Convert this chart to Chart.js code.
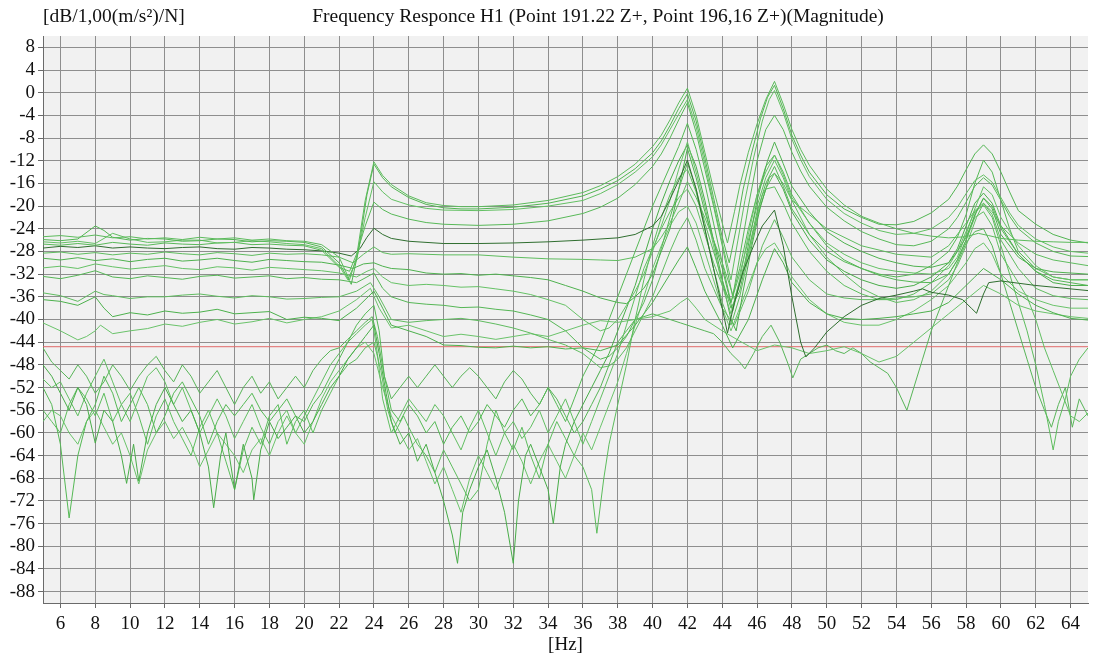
<!DOCTYPE html>
<html>
<head>
<meta charset="utf-8">
<script src="https://cdn.jsdelivr.net/npm/chart.js@4.4.1/dist/chart.umd.min.js"></script>
<style>
html, body { margin: 0; padding: 0; background: #fff; }
#wrap { width: 1101px; height: 662px; }
</style>
</head>
<body>
<div id="wrap"><canvas id="frf" width="1101" height="662"></canvas></div>
<script>
// axis ticks
var freqTicks = [6, 8, 10, 12, 14, 16, 18, 20, 22, 24, 26, 28, 30, 32, 34, 36, 38, 40, 42, 44, 46, 48, 50, 52, 54, 56, 58, 60, 62, 64];
var dbTicks = [-88, -84, -80, -76, -72, -68, -64, -60, -56, -52, -48, -44, -40, -36, -32, -28, -24, -20, -16, -12, -8, -4, 0, 4, 8];
var redLevel = -44.8;

// measured H1 curves, [Hz, dB]
var h1_01 = [[5,-25.4],[6,-25.2],[7,-25.5],[8,-25.1],[9,-25.6],[10,-25.4],[11,-25.8],[12,-25.6],[13,-25.9],[14,-25.5],[15,-25.8],[16,-25.6],[17,-26],[18,-25.8],[19,-26.1],[20,-26.2],[21,-26.8],[22,-29],[22.6,-33],[23,-29],[23.5,-19],[24,-12.2],[24.5,-14.6],[25,-16.2],[26,-18.2],[27,-19.4],[28,-19.9],[29,-20.1],[30,-20.1],[32,-19.8],[34,-19],[36,-17.6],[37,-16.4],[38,-14.8],[39,-12.6],[40,-9.5],[40.5,-7.5],[41,-4.8],[41.5,-1.8],[42,0.8],[42.5,-4],[43,-10.5],[43.5,-17],[44,-23],[44.3,-26.5],[44.7,-21],[45,-16.5],[45.5,-10.5],[46,-5.5],[46.5,-1.2],[47,2],[47.5,-2],[48,-6.5],[48.5,-10],[49,-12.8],[50,-17],[51,-19.8],[52,-21.8],[53,-23],[54,-24],[55,-24.8],[56,-25.3],[57,-25.6],[58,-25.4],[58.7,-24.8],[59.3,-25.2],[60,-25.7],[61,-26],[62,-26.2],[63,-26.3],[64,-26.4],[65,-26.4]];
var h1_02 = [[5,-25.9],[6,-26.1],[7,-25.8],[8,-23.5],[8.5,-24.3],[9,-25.5],[10,-26],[11,-25.7],[12,-25.8],[13,-26.2],[14,-26.1],[15,-25.8],[16,-25.9],[17,-26.3],[18,-26.1],[19,-26.2],[20,-26.4],[21,-27.2],[22,-30],[22.7,-33.8],[23.1,-28],[23.6,-18],[24,-12.6],[24.5,-15],[25,-16.6],[26,-18.5],[27,-19.7],[28,-20.3],[29,-20.5],[30,-20.5],[32,-20.2],[34,-19.5],[36,-18.2],[37,-17],[38,-15.5],[39,-13.4],[40,-10.6],[40.5,-8.5],[41,-5.8],[41.5,-2.8],[42,-0.2],[42.5,-5],[43,-11.5],[43.5,-18.5],[44,-25.5],[44.4,-30],[44.8,-24],[45.2,-17],[45.7,-10.5],[46.2,-4.5],[46.6,-0.8],[47,1.3],[47.5,-2.8],[48,-7.5],[48.5,-11],[49,-14],[50,-18],[51,-20.5],[52,-22],[53,-23.2],[54,-23.3],[55,-22.7],[56,-21.2],[57,-18.8],[57.5,-16.5],[58,-13.6],[58.5,-10.8],[59,-9.2],[59.5,-10.8],[60,-14],[60.5,-17.5],[61,-20.8],[62,-23.2],[63,-25],[64,-26],[65,-26.5]];
var h1_03 = [[5,-26.3],[6,-26.5],[7,-26.2],[8,-26.6],[9,-24.8],[10,-25.8],[11,-26.4],[12,-26.3],[13,-26],[14,-26],[15,-26.5],[16,-26.4],[17,-26.1],[18,-26.3],[19,-26.6],[20,-26.8],[21,-27.5],[22,-30.5],[22.5,-33],[23,-29.5],[23.5,-22],[24,-15.7],[24.5,-17.5],[25,-18.8],[26,-19.8],[27,-20.4],[28,-20.7],[30,-20.8],[32,-20.6],[34,-20],[36,-19],[37,-17.8],[38,-16.2],[39,-14],[40,-11.3],[40.5,-9.2],[41,-6.5],[41.5,-3.8],[42,-1.2],[42.5,-6],[43,-12.5],[43.5,-19.5],[44,-26.5],[44.5,-33],[44.9,-26],[45.3,-19],[45.8,-11.5],[46.3,-5],[46.7,-1.2],[47,0.4],[47.5,-3.5],[48,-8.2],[48.5,-11.8],[49,-14.8],[50,-18.8],[51,-21.3],[52,-23],[53,-24.3],[54,-25],[55,-24.8],[56,-24],[57,-22],[57.5,-20.2],[58,-17.8],[58.5,-15.5],[59,-14.5],[59.5,-15.8],[60,-18.5],[60.5,-21.2],[61,-23.4],[62,-25.8],[63,-27.2],[64,-28],[65,-28.3]];
var h1_04 = [[5,-26.7],[6,-26.9],[7,-26.6],[8,-26.9],[9,-26.4],[10,-26.7],[11,-26.9],[12,-26.5],[13,-26.7],[14,-26.8],[15,-26.5],[16,-26.4],[17,-26.8],[18,-26.7],[19,-26.9],[20,-27],[21,-27.8],[22,-30.8],[22.6,-31.5],[23,-28.5],[23.5,-23.5],[24,-19.3],[24.5,-20.6],[25,-21.4],[26,-22.3],[27,-22.9],[28,-23.2],[30,-23.4],[32,-23.2],[34,-22.6],[36,-21.3],[37,-20.2],[38,-18.6],[39,-16.2],[40,-13],[40.5,-10.8],[41,-8],[41.5,-4.8],[42,-1.8],[42.5,-7],[43,-13.5],[43.5,-20],[44,-27],[44.6,-36],[45,-29],[45.5,-20],[46,-12],[46.5,-6.5],[47,-4],[47.5,-6.5],[48,-10.5],[48.5,-13.8],[49,-16.5],[50,-20.2],[51,-22.6],[52,-24.5],[53,-25.8],[54,-26.8],[55,-27],[56,-26.2],[57,-24],[57.5,-22],[58,-19.3],[58.5,-16.5],[59,-15],[59.5,-16.3],[60,-19],[60.5,-21.8],[61,-24],[62,-26.5],[63,-28],[64,-28.8],[65,-28.9]];
var h1_05 = [[5,-27.4],[6,-27.1],[7,-27.3],[8,-27],[9,-27.4],[10,-27.2],[11,-27.4],[12,-27.5],[13,-27.3],[14,-27.2],[15,-27.5],[16,-27.6],[17,-27.3],[18,-27.4],[19,-27.6],[20,-27.7],[21,-27.9],[22,-28.3],[22.7,-28.8],[23.2,-27.5],[23.6,-25.5],[24,-23.9],[24.5,-25],[25,-25.7],[26,-26.2],[28,-26.6],[30,-26.6],[32,-26.5],[34,-26.3],[36,-26],[38,-25.6],[39,-25],[40,-23.5],[40.5,-21.8],[41,-18.8],[41.5,-15.5],[42,-11.9],[42.5,-17],[43,-24],[43.5,-31],[44,-38],[44.3,-42.4],[44.7,-37],[45.2,-31.5],[45.8,-27],[46.3,-23.5],[47,-20.7],[47.5,-27],[48,-36],[48.5,-44],[48.8,-46.6],[49.3,-45],[50,-42.2],[51,-39.5],[52,-37.5],[53,-36.3],[54,-35.7],[55,-35],[55.5,-34.6],[56,-35.2],[57,-35.7],[57.8,-36.5],[58.3,-38],[58.6,-38.9],[59,-35.5],[59.3,-33.5],[60,-33.2],[61,-33.6],[62,-34],[63,-34.3],[64,-34.6],[65,-34.9]];
var h1_06 = [[5,-28.3],[6,-28.1],[7,-28.5],[8,-28.2],[9,-28.6],[10,-28.3],[11,-28.5],[12,-28.1],[13,-28.4],[14,-28.6],[15,-28.2],[16,-28.4],[17,-28.7],[18,-28.3],[19,-28.5],[20,-28.4],[21,-28.6],[22,-29],[22.8,-30],[23.4,-28.5],[24,-27.2],[24.5,-28.2],[25,-28.5],[26,-28.4],[28,-28.6],[30,-28.6],[32,-29],[34,-29.3],[36,-29.4],[37,-29.5],[38,-29.6],[39,-29],[40,-27.5],[40.5,-25.5],[41,-23],[41.5,-19.5],[42,-15.7],[42.5,-18.5],[43,-22],[44,-30],[44.7,-36.5],[45.5,-28],[46.3,-18],[47,-14.2],[47.5,-16],[48,-19],[49,-21.5],[50,-24],[52,-27],[54,-28.5],[56,-29],[57,-27],[58,-23],[58.5,-20.8],[59,-19.5],[59.5,-21],[60,-23.5],[61,-26.5],[62,-28.5],[63,-29.5],[64,-30],[65,-30.5]];
var h1_07 = [[5,-29.2],[6,-29.5],[7,-29.1],[8,-29.6],[9,-29.3],[10,-29.8],[11,-29.4],[12,-29.2],[13,-29.7],[14,-29.5],[15,-29.2],[16,-29.6],[17,-29.9],[18,-29.4],[19,-29.6],[20,-29.8],[21,-29.9],[22,-30.4],[22.8,-31],[23.4,-30.2],[24,-30],[24.5,-30.6],[25,-31],[26,-31.2],[27,-31.8],[28,-32],[29,-31.9],[30,-32.2],[31,-32],[32,-32.3],[33,-32.6],[34,-33],[35,-34],[36,-35],[37,-36.2],[38,-37],[38.5,-37.2],[39,-36],[39.5,-34.5],[40,-32],[40.5,-28],[41,-24],[41.5,-17],[42,-9.8],[42.5,-15],[43,-21],[44,-31],[44.6,-38.5],[45.3,-30],[46,-19],[46.6,-12],[47,-8.7],[47.5,-12.5],[48,-16.5],[49,-21],[50,-24.5],[51,-26.5],[52,-28],[53,-29.2],[54,-30],[55,-30.6],[56,-30.8],[57,-30],[57.5,-28],[58,-25.5],[58.6,-21],[59,-18.6],[59.5,-20.5],[60,-25],[61,-29],[62,-31],[63,-31.6],[64,-31.8],[65,-32]];
var h1_08 = [[5,-30.9],[6,-30.6],[7,-31],[8,-30.2],[9,-30.7],[10,-31.1],[11,-30.8],[12,-30.5],[13,-31],[14,-31.2],[15,-30.7],[16,-30.9],[17,-31.3],[18,-30.8],[19,-31],[20,-31.2],[21,-31.4],[22,-31.8],[23,-32.5],[23.6,-31.5],[24,-31],[24.5,-32.5],[25,-33.5],[26,-34],[27,-33.8],[28,-34],[29,-34.3],[30,-34.2],[31,-34.6],[32,-35],[33,-35.6],[34,-36.5],[35,-37.5],[36,-40],[37,-42],[37.5,-41.5],[38,-40],[38.5,-37.5],[39,-35],[39.5,-32],[40,-28],[40.5,-23.5],[41,-19],[41.5,-13.5],[42,-8.7],[42.5,-14],[43,-20],[43.5,-27],[44,-34],[44.5,-39],[45,-33],[45.5,-25],[46,-18],[46.5,-14],[47,-11],[47.5,-14.5],[48,-18.5],[49,-23],[50,-26.5],[51,-28.5],[52,-30],[53,-31],[54,-31.5],[55,-31.8],[56,-32],[57,-31],[57.5,-29],[58,-25],[58.5,-20.5],[59,-16.6],[59.5,-18],[60,-22],[60.5,-24.5],[61,-27],[62,-30.5],[63,-32.5],[64,-33],[65,-33]];
var h1_09 = [[5,-32.4],[6,-32.8],[7,-32.2],[8,-31.4],[9,-32.5],[10,-32.8],[11,-32.3],[12,-32.6],[13,-32.9],[14,-32.4],[15,-32.2],[16,-32.7],[17,-32.5],[18,-32.3],[19,-32.8],[20,-32.6],[21,-32.9],[22,-33],[23,-33.5],[23.6,-32.5],[24,-31.8],[24.5,-34.5],[25,-36],[26,-37],[27,-37.3],[28,-37.5],[29,-37.9],[30,-37.8],[31,-38.2],[32,-38.5],[33,-39.2],[34,-40],[35,-42],[36,-45],[37,-47],[37.5,-46.5],[38,-45],[38.5,-43],[39,-40],[39.5,-37],[40,-33],[40.5,-27.5],[41,-22],[41.5,-17],[42,-12.4],[42.5,-17],[43,-23],[43.5,-28],[44,-33],[44.5,-38],[45,-35],[45.5,-28],[46,-21],[46.5,-16],[47,-13],[47.5,-16.5],[48,-20.5],[49,-25],[50,-28],[51,-29.8],[52,-31],[53,-32.2],[54,-33],[55,-33.4],[56,-33.5],[57,-32],[57.5,-29.5],[58,-26],[58.5,-21.5],[59,-18.6],[59.5,-20],[60,-24],[61,-28.5],[62,-31.5],[63,-33],[64,-33.5],[65,-34]];
var h1_10 = [[5,-35.3],[6,-35.8],[7,-36.8],[8,-35],[8.5,-35.6],[9,-35.8],[10,-36.3],[11,-36],[12,-36],[13,-35.7],[14,-35.5],[15,-35.9],[16,-36.2],[17,-35.8],[18,-36],[19,-36.4],[20,-36.3],[21,-36.1],[22,-36],[23,-35],[23.8,-33.5],[24.3,-36],[25,-40],[26,-40.5],[27,-40.2],[28,-40],[29,-39.8],[30,-40.2],[31,-40.8],[32,-41.5],[33,-42.4],[34,-43.5],[35,-44.5],[36,-46],[37,-48.5],[37.5,-48.2],[38,-47],[38.5,-45],[39,-42],[39.5,-39],[40,-36],[40.5,-32],[41,-28],[41.5,-24.5],[42,-22],[42.5,-26],[43,-31],[43.5,-34.5],[44,-38],[44.7,-41],[45.5,-35],[46.3,-27],[47,-22.4],[47.5,-25.5],[48,-29],[49,-33],[50,-35.5],[51,-36.2],[52,-36.5],[53,-36.5],[54,-36.2],[55,-36],[56,-35.5],[57,-33],[57.5,-30.5],[58,-27],[58.6,-22],[59,-19.5],[59.5,-21.5],[60,-26],[61,-31],[62,-34.5],[63,-35.8],[64,-36.3],[65,-36.5]];
var h1_11 = [[5,-36.5],[6,-36.8],[7,-37.5],[8,-36],[8.5,-38],[9,-39.5],[10,-38.8],[11,-39.2],[12,-38.5],[13,-38.9],[14,-38.7],[15,-38.2],[16,-39],[17,-38.8],[18,-38.6],[19,-40],[20,-39.6],[21,-39.8],[22,-40.2],[23,-38],[24,-35],[24.5,-38],[25,-41],[26,-42],[27,-43],[28,-44.5],[29,-44.6],[30,-44.9],[31,-45],[32,-44.7],[33,-45],[34,-44.8],[35,-45.2],[36,-45],[37,-45.5],[38,-44.5],[39,-41],[40,-37],[41,-32],[41.5,-29.5],[42,-27.2],[42.5,-31],[43,-35],[44,-41],[44.6,-45],[45.5,-40],[46.3,-33],[47,-27.5],[47.5,-30],[48,-33.5],[49,-37],[50,-39],[51,-39.8],[52,-40],[53,-39.8],[54,-39.5],[55,-39],[56,-38.5],[57,-37],[58,-34],[58.5,-32.5],[59,-31],[59.5,-32],[60,-33],[61,-35.5],[62,-37.5],[63,-38.8],[64,-39.8],[65,-40.1]];
var h1_12 = [[5,-40.6],[6,-42],[7,-43.6],[7.5,-43],[8,-42],[8.3,-41],[9,-42.5],[10,-42],[11,-41.6],[12,-40.8],[13,-41.2],[14,-40.5],[15,-40],[16,-40.8],[17,-40.4],[18,-39.8],[19,-40.6],[20,-40],[21,-39.5],[22,-38.5],[23,-36.5],[23.8,-34.5],[24.3,-38],[25,-41.5],[26,-41],[27,-42],[28,-43],[29,-42.6],[30,-43],[31,-43.5],[32,-43],[33,-42.5],[34,-43],[35,-42],[36,-41],[37,-40.2],[38,-40.5],[39,-40],[40,-39.5],[41,-38.5],[41.6,-37],[42,-36.2],[42.5,-38],[43,-40],[44,-42],[45,-43.8],[46,-45.5],[47,-44.5],[48,-45],[49,-46],[50,-45.5],[51,-44.8],[52,-46],[53,-47.5],[54,-46.5],[55,-44],[56,-41.5],[57,-39],[58,-36.5],[59,-34],[60,-35.5],[61,-37.5],[62,-38.5],[63,-39],[64,-39.5],[65,-39.8]];
var h1_13 = [[5,-52],[5.5,-55],[6,-62],[6.5,-75],[7,-64],[7.5,-58],[8,-55],[8.5,-50],[9,-53],[9.5,-58],[10,-55],[10.5,-52],[11,-55],[11.5,-60],[12,-57],[12.5,-53],[13,-51],[13.5,-54],[14,-57],[14.5,-62],[15,-58],[15.5,-55],[16,-57],[16.5,-55],[17,-53],[17.5,-56],[18,-58],[18.5,-56],[19,-54],[19.5,-57],[20,-58],[20.5,-55],[21,-53],[21.5,-50],[22,-47],[22.5,-44],[23,-41],[23.5,-39],[24,-37.5],[24.3,-42],[24.6,-50],[25,-56],[25.5,-58],[26,-55],[26.5,-57],[27,-60],[27.5,-58],[28,-62],[28.5,-59],[29,-57],[29.5,-60],[30,-58],[30.5,-55],[31,-57],[31.5,-59],[32,-56],[32.5,-54],[33,-57],[33.5,-55],[34,-52],[34.5,-55],[35,-58],[35.5,-54],[36,-50],[36.5,-47],[37,-44],[37.5,-40],[38,-36],[38.5,-32],[39,-28],[39.5,-24],[40,-20],[40.5,-16.5],[41,-13],[41.5,-9.5],[42,-5.4],[42.5,-10],[43,-16],[43.5,-23],[44,-30],[44.5,-37],[45,-31],[45.5,-24],[46,-18],[46.5,-13],[47,-11],[47.5,-14],[48,-18],[49,-23],[50,-27],[51,-29.5],[52,-31],[53,-32],[54,-32.5],[55,-32],[56,-30.5],[57,-28],[57.5,-25.5],[58,-21.5],[58.5,-16],[59,-11.9],[59.5,-14],[60,-19],[60.5,-24],[61,-28],[62,-31],[63,-32.5],[64,-33],[65,-33]];
var h1_14 = [[5,-48],[5.5,-50],[6,-53],[6.5,-56],[7,-52],[7.5,-55],[8,-61.8],[8.5,-56],[9,-58],[9.5,-64],[9.8,-68.9],[10.2,-62],[10.5,-68.5],[11,-60],[11.5,-55],[12,-52],[12.5,-55],[13,-58],[13.5,-56],[14,-60],[14.5,-66],[14.8,-73.2],[15.2,-64],[15.5,-60],[16,-70],[16.5,-62],[17,-68],[17.1,-71.8],[17.5,-63],[18,-58],[18.5,-61],[19,-59],[19.5,-57],[20,-60],[20.5,-58],[21,-55],[21.5,-52],[22,-50],[22.5,-47],[23,-45],[23.5,-43],[24,-41],[24.3,-46],[24.7,-53],[25,-58],[25.5,-62],[26,-60],[26.5,-65],[27,-62],[27.5,-67],[28,-72],[28.5,-78],[28.8,-83],[29.1,-74],[29.5,-70],[30,-66],[30.5,-63],[31,-68],[31.5,-74],[32,-83],[32.3,-72],[32.7,-64],[33,-62],[33.5,-66],[34,-70],[34.3,-76],[34.7,-66],[35,-62],[35.5,-58],[36,-55],[36.5,-52],[37,-49],[37.5,-46],[38,-42],[38.5,-38],[39,-34],[39.5,-29],[40,-24],[40.5,-19.5],[41,-15.5],[41.5,-12],[42,-9.2],[42.5,-13],[43,-19],[43.5,-26],[44,-33],[44.5,-40],[44.8,-42],[45.2,-35],[45.7,-27],[46.2,-20],[46.7,-15],[47,-14.2],[47.5,-17],[48,-21],[49,-26],[50,-29.5],[51,-31.5],[52,-33],[53,-34],[54,-34.5],[55,-34],[56,-32.5],[57,-30],[57.5,-27.5],[58,-23.5],[58.5,-19.5],[59,-17.7],[59.5,-19.5],[60,-23.5],[61,-28.5],[62,-31.5],[63,-33.5],[64,-34],[65,-34]];
var h1_15 = [[5,-56],[5.5,-58],[6,-60],[6.5,-55],[7,-52],[7.5,-54],[8,-57],[8.5,-53],[9,-58],[9.5,-55],[10,-53],[10.5,-57],[11,-62],[11.5,-57],[12,-54],[12.5,-58],[13,-61],[13.5,-64],[14,-59],[14.5,-56],[15,-60],[15.5,-65],[16,-70],[16.5,-63],[17,-59],[17.5,-62],[18,-57],[18.5,-55],[19,-62],[19.5,-58],[20,-56],[20.5,-60],[21,-56],[21.5,-53],[22,-50],[22.5,-48],[23,-47],[23.5,-45],[24,-44],[24.4,-49],[24.8,-56],[25.2,-60],[25.7,-57],[26,-59],[26.5,-62],[27,-64],[27.5,-67],[28,-63],[28.5,-66],[29,-69],[29.5,-72],[30,-70],[30.5,-62],[31,-56],[31.5,-60],[32,-63],[32.5,-59],[33,-64],[33.5,-68],[34,-62],[34.5,-58],[35,-61],[35.5,-64],[36,-66],[36.5,-70],[36.8,-77.7],[37.2,-68],[37.5,-62],[38,-55],[38.5,-48],[39,-40],[39.5,-33],[40,-27],[40.5,-22],[41,-18],[41.5,-15],[42,-13.5],[42.5,-17.5],[43,-24],[43.5,-31],[44,-37],[44.5,-41],[45,-36],[45.5,-29],[46,-22],[46.5,-17],[47,-16.6],[47.5,-19.5],[48,-23],[49,-28],[50,-31.5],[51,-34],[52,-35.5],[53,-36.5],[54,-36.5],[55,-35.5],[56,-33.5],[57,-30.5],[57.5,-28],[58,-24.5],[58.5,-21],[59,-19.8],[59.5,-22],[60,-27],[60.5,-32],[61,-37],[61.5,-42],[62,-48],[62.5,-55],[63,-63],[63.3,-58],[63.7,-54],[64,-50],[64.5,-47],[65,-45]];
var h1_16 = [[5,-50.5],[5.5,-52],[6,-51],[6.5,-54],[7,-57],[7.5,-53],[8,-50],[8.5,-47],[9,-51],[9.5,-55],[10,-58],[10.5,-54],[11,-50],[11.5,-48.5],[12,-51],[12.5,-55],[13,-52],[13.5,-56],[14,-60],[14.5,-57],[15,-54],[15.5,-57],[16,-61],[16.5,-58],[17,-55],[17.5,-59],[18,-62],[18.5,-58],[19,-56],[19.5,-60],[20,-57],[20.5,-54],[21,-51],[21.5,-48],[22,-46],[22.5,-44],[23,-42.5],[23.5,-41],[23.9,-40],[24.2,-46],[24.5,-54],[25,-60],[25.5,-57],[26,-54],[26.5,-56],[27,-58],[27.5,-55],[28,-57],[28.5,-60],[29,-63],[29.5,-59],[30,-56],[30.5,-60],[31,-64],[31.5,-60],[32,-58],[32.5,-61],[33,-59],[33.5,-56],[34,-60],[34.5,-57],[35,-54],[35.5,-58],[36,-62],[36.5,-58],[37,-54],[37.5,-50],[38,-46],[38.5,-41],[39,-36],[39.5,-31],[40,-27.5],[40.5,-24],[41,-21],[41.5,-18.5],[42,-17],[42.5,-20],[43,-25],[43.5,-30],[44,-34],[44.5,-37],[45,-32],[45.5,-26],[46,-20],[46.5,-15],[47,-11.9],[47.5,-15],[48,-19],[49,-25],[50,-29],[51,-32],[52,-34.5],[53,-36],[54,-37],[55,-36.5],[56,-35],[57,-32],[57.5,-29.5],[58,-26],[58.5,-22],[59,-21],[59.5,-23.5],[60,-28.5],[61,-33.5],[61.5,-36],[62,-40],[62.5,-45],[63,-49],[63.5,-53],[64,-57],[64.5,-58],[65,-56.5]];
var h1_17 = [[5,-45],[5.5,-47.5],[6,-49],[6.5,-50.5],[7,-48],[7.5,-50],[8,-53],[8.5,-51],[9,-48],[9.5,-50],[10,-52.5],[10.5,-50],[11,-48],[11.5,-46.5],[12,-49],[12.5,-51],[13,-48],[13.5,-50],[14,-53],[14.5,-51],[15,-49],[15.5,-52],[16,-55],[16.5,-52],[17,-50],[17.5,-53],[18,-51],[18.5,-54],[19,-52],[19.5,-50],[20,-52],[20.5,-49],[21,-47],[21.5,-45.5],[22,-45],[22.5,-43.5],[23,-42],[23.5,-40.5],[23.9,-39.5],[24.2,-43],[24.6,-50],[25,-54],[25.5,-52],[26,-50],[26.5,-52],[27,-50],[27.5,-48],[28,-50],[28.5,-52],[29,-50],[29.5,-48.5],[30,-50],[30.5,-52],[31,-54],[31.5,-51],[32,-49],[32.5,-50.5],[33,-53],[33.5,-55],[34,-52],[34.5,-54],[35,-57],[35.5,-60],[36,-58],[36.5,-55],[37,-52],[37.5,-48],[38,-44],[38.5,-42],[39,-40],[40,-39],[41,-40],[41.6,-40.6],[42.5,-41.5],[43,-42],[43.5,-42.5],[44,-44],[44.5,-46],[45,-47.5],[45.3,-48.7],[45.8,-46],[46.3,-43],[46.8,-41],[47.3,-44],[47.8,-48],[48.05,-50.3],[48.5,-47],[49,-46],[49.5,-45],[50,-44.5],[50.5,-45.5],[51,-46],[51.5,-45],[52,-46],[52.5,-47.5],[53,-48.5],[53.5,-49.5],[54,-52],[54.6,-56],[55,-52],[55.5,-47],[56,-42],[56.5,-38],[57,-34],[57.5,-30],[58,-26.5],[58.5,-24.5],[59,-24],[59.5,-27],[60,-32],[60.5,-37],[61,-42],[61.5,-47],[62,-52],[62.5,-56],[62.9,-59],[63.3,-55],[63.7,-52],[64.1,-59],[64.5,-54],[65,-57]];
var h1_18 = [[5,-58],[5.5,-56],[6,-57],[6.5,-60],[7,-62],[7.5,-58],[8,-56],[8.5,-59],[9,-62],[9.5,-60],[10,-64],[10.5,-69],[11,-63],[11.5,-60],[12,-58],[12.5,-61],[13,-59],[13.5,-62],[14,-66],[14.5,-63],[15,-60],[15.5,-62],[16,-64],[16.5,-67],[17,-63],[17.5,-61],[18,-64],[18.5,-60],[19,-57],[19.5,-60],[20,-62],[20.5,-58],[21,-54],[21.5,-51],[22,-49],[22.5,-47],[23,-45],[23.5,-44],[24,-46],[24.5,-52],[25,-57],[25.5,-60],[26,-63],[26.5,-61],[27,-65],[27.5,-69],[28,-66],[28.5,-70],[29,-74],[29.5,-68],[30,-64],[30.5,-67],[31,-70],[31.5,-66],[32,-62],[32.5,-65],[33,-69],[33.5,-65],[34,-62],[34.5,-65],[35,-68],[35.5,-64],[36,-60],[36.5,-63],[37,-59],[37.5,-55],[38,-51],[38.5,-46],[39,-41],[39.5,-36],[40,-31],[40.5,-27],[41,-23.5],[41.5,-21],[42,-20],[42.5,-23],[43,-28],[43.5,-33],[44,-38],[44.5,-42],[45,-38],[45.5,-34],[46,-30],[46.5,-27.5],[47,-26.5],[47.5,-29],[48,-32.5],[49,-36.5],[50,-39],[51,-40.5],[52,-41],[53,-41],[54,-40],[55,-38.5],[56,-36.5],[57,-34],[58,-30],[58.5,-27.5],[59,-26.5],[59.5,-28.5],[60,-32],[61,-35],[62,-36.5],[63,-37.5],[64,-38],[65,-38]];

var curves = [h1_01, h1_02, h1_03, h1_04, h1_05, h1_06, h1_07, h1_08, h1_09,
              h1_10, h1_11, h1_12, h1_13, h1_14, h1_15, h1_16, h1_17, h1_18];
var lineColors = ['#5cbb5c', '#52b552', '#63c063', '#58b958', '#2f6e2f', '#5fbd5f',
                  '#4fb24f', '#66c266', '#56b756', '#60bc60', '#4db14d', '#6ac36a',
                  '#55b955', '#49ad49', '#5dbd5d', '#62bf62', '#58b558', '#6bc46b'];

var datasets = curves.map(function (c, i) {
  return {
    data: c.map(function (p) { return { x: p[0], y: p[1] }; }),
    borderColor: lineColors[i],
    borderWidth: 1,
    pointRadius: 0,
    tension: 0,
    fill: false
  };
});
datasets.push({
  data: [{ x: 5, y: redLevel }, { x: 65, y: redLevel }],
  borderColor: '#e06a6a',
  borderWidth: 1,
  pointRadius: 0,
  fill: false
});

var serif = 'Liberation Serif';

var frame = {
  id: 'frame',
  beforeDraw: function (chart) {
    var a = chart.chartArea, ctx = chart.ctx;
    ctx.save();
    ctx.fillStyle = '#f1f1f1';
    ctx.fillRect(a.left, a.top, a.right - a.left, a.bottom - a.top);
    ctx.restore();
  },
  afterDraw: function (chart) {
    var ctx = chart.ctx;
    ctx.save();
    ctx.fillStyle = '#111';
    ctx.font = '19.5px "' + serif + '"';
    ctx.textBaseline = 'alphabetic';
    ctx.textAlign = 'left';
    ctx.fillText('[dB/1,00(m/s\u00B2)/N]', 43, 22);
    ctx.textAlign = 'center';
    ctx.fillText('Frequency Responce H1 (Point 191.22 Z+, Point 196,16 Z+)(Magnitude)', 598, 22);
    ctx.restore();
  }
};

new Chart(document.getElementById('frf'), {
  type: 'line',
  data: { datasets: datasets },
  plugins: [frame],
  options: {
    responsive: false,
    animation: false,
    layout: { padding: { left: 0, right: 13, top: 36, bottom: 0 } },
    plugins: { legend: { display: false }, tooltip: { enabled: false } },
    scales: {
      x: {
        type: 'linear',
        min: 5,
        max: 65,
        afterBuildTicks: function (s) { s.ticks = freqTicks.map(function (v) { return { value: v }; }); },
        afterFit: function (s) { s.height = 59; },
        grid: { color: '#8e8e8e', lineWidth: 1, tickLength: 5, tickColor: '#6a6a6a' },
        border: { color: '#6a6a6a' },
        ticks: { color: '#111', font: { family: serif, size: 19 }, padding: 5, maxRotation: 0, autoSkip: false },
        title: { display: true, text: '[Hz]', color: '#111', font: { family: serif, size: 19 }, padding: { top: 0, bottom: 6 } }
      },
      y: {
        min: -90,
        max: 10,
        afterBuildTicks: function (s) { s.ticks = dbTicks.map(function (v) { return { value: v }; }); },
        afterFit: function (s) { s.width = 43; },
        grid: { color: '#8e8e8e', lineWidth: 1, tickLength: 5, tickColor: '#6a6a6a' },
        border: { color: '#6a6a6a' },
        ticks: { color: '#111', font: { family: serif, size: 19 }, padding: 3, autoSkip: false }
      }
    }
  }
});
</script>
</body>
</html>
